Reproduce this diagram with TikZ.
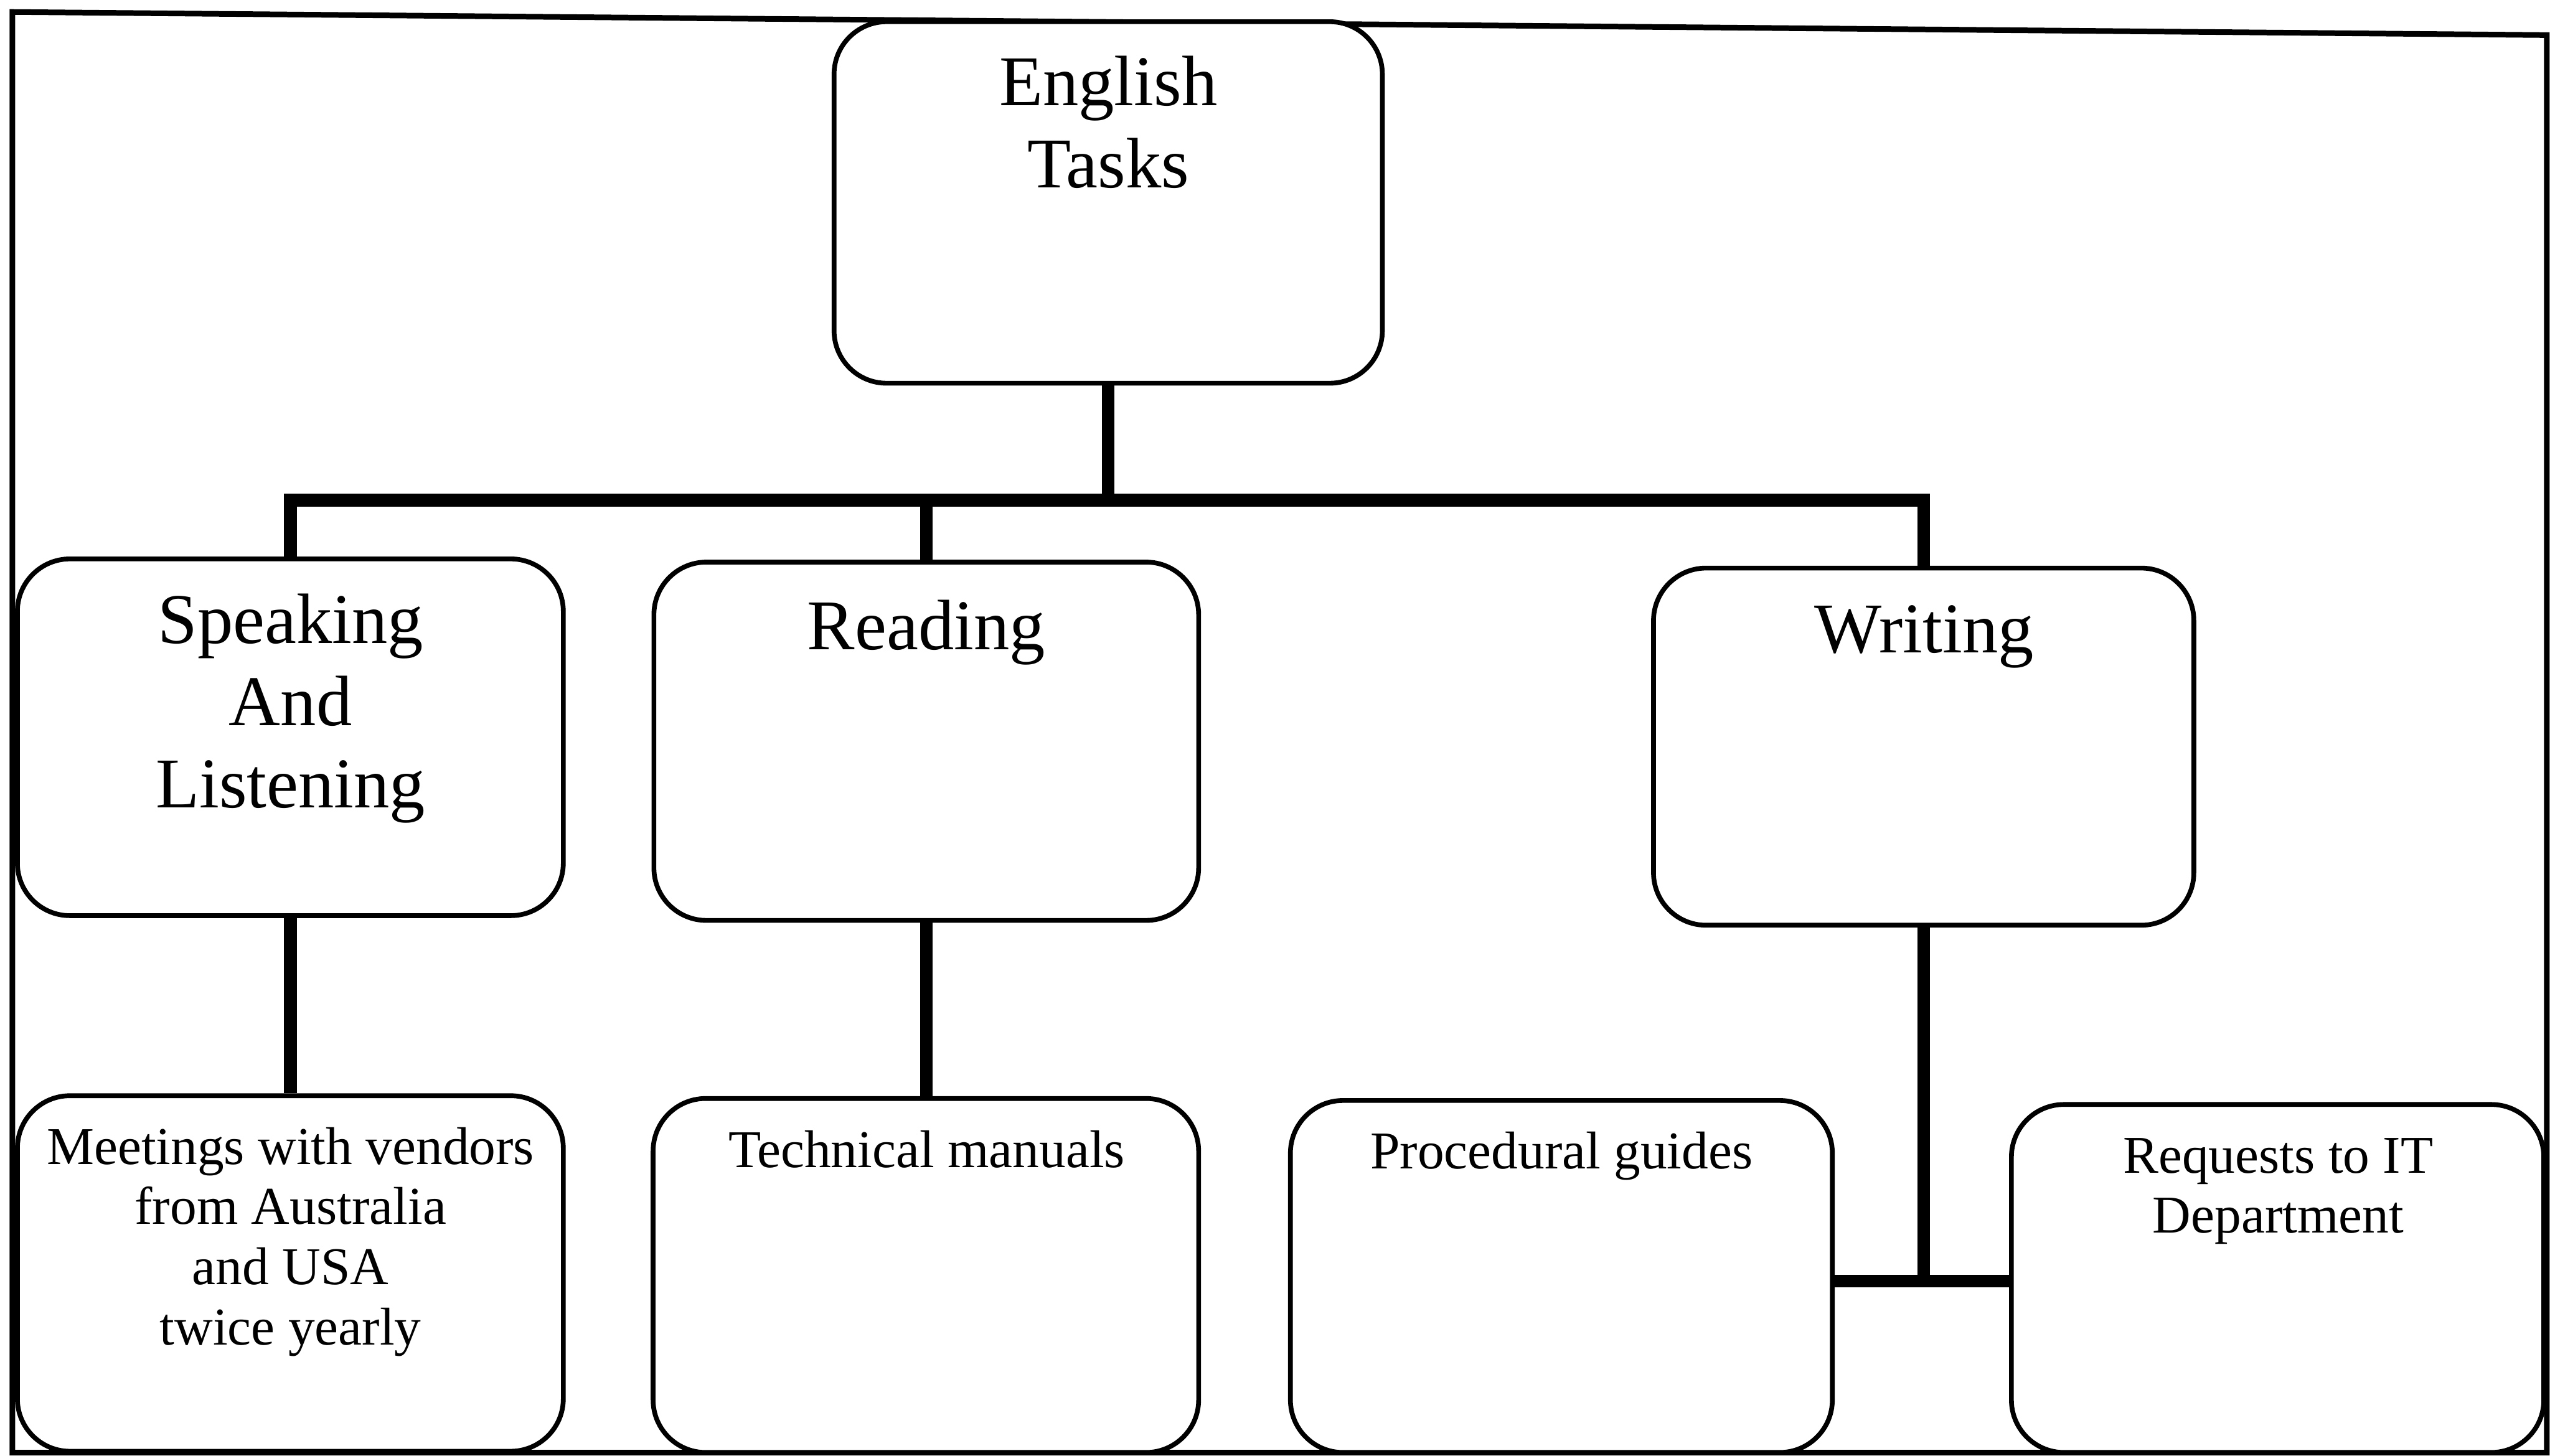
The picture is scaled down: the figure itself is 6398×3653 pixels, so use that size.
\documentclass[tikz,border=0pt]{standalone}
\usepackage{fontspec}
\setmainfont{Liberation Serif}
\newcommand{\lines}[1]{\begin{tabular}[t]{@{}c@{}}#1\end{tabular}}
\begin{document}
\begin{tikzpicture}[x=0.005cm,y=-0.005cm,
  box/.style={draw, line width=1.7pt, rounded corners=0.66cm, inner sep=0pt, fill=white},
  conn/.style={line width=4.5pt},
  framestyle/.style={line width=2pt},
  bigtext/.style={anchor=base, inner sep=0pt, font=\fontsize{25.5pt}{29.3pt}\selectfont},
  smalltext/.style={anchor=base, inner sep=0pt, font=\fontsize{19pt}{21.5pt}\selectfont}]
\useasboundingbox (0,0) rectangle (6398,3653);
% frame
\coordinate (f1) at (31,30);
\coordinate (f2) at (6390,88);
\coordinate (f3) at (6390,3645);
\coordinate (f4) at (31,3645);
\draw[framestyle] (f1) -- (f2) -- (f3) -- (f4) -- cycle;
% boxes
\node[box, minimum width=6.885cm, minimum height=4.54cm] (eng) at (2780.5,508) {};
\node[box, minimum width=6.855cm, minimum height=4.48cm] (spk) at (728.5,1850) {};
\node[box, minimum width=6.84cm, minimum height=4.50cm] (rea) at (2324,1860) {};
\node[box, minimum width=6.785cm, minimum height=4.485cm] (wri) at (4826.5,1873.5) {};
\node[box, minimum width=6.855cm, minimum height=4.465cm] (mee) at (728.5,3195.5) {};
\node[box, minimum width=6.85cm, minimum height=4.445cm] (tec) at (2323,3200.5) {};
\node[box, minimum width=6.805cm, minimum height=4.42cm] (pro) at (3917.5,3203) {};
\node[box, minimum width=6.685cm, minimum height=4.37cm] (req) at (5714.5,3208) {};
% texts
\node[bigtext] (engt) at (2781,265) {\lines{English\\Tasks}};
\node[bigtext] (spkt) at (729,1615) {\lines{Speaking\\And\\Listening}};
\node[bigtext] (reat) at (2324,1630) {Reading};
\node[bigtext] (writ) at (4828,1637) {Writing};
\node[smalltext] (meet) at (729,2921) {\lines{Meetings with vendors\\from Australia\\and USA\\twice yearly}};
\node[smalltext] (tect) at (2325,2930) {Technical manuals};
\node[smalltext] (prot) at (3918,2932) {Procedural guides};
\node[smalltext] (reqt) at (5716,2943) {\lines{Requests to IT\\Department}};
% connectors
\coordinate (bar) at (2781,1255);
\coordinate (wj) at (4826.5,3215);
\draw[conn] (eng.south) -- (eng.south |- bar);
\draw[conn] (spk.north) |- (bar) -| (wri.north);
\draw[conn] (rea.north) -- (rea.north |- bar);
\draw[conn] (spk.south) -- (mee.north);
\draw[conn] (rea.south) -- (rea.south |- tec.north);
\draw[conn] (wri.south) -- (wri.south |- wj);
\draw[conn] (pro.east |- wj) -- (req.west |- wj);
\end{tikzpicture}
\end{document}
